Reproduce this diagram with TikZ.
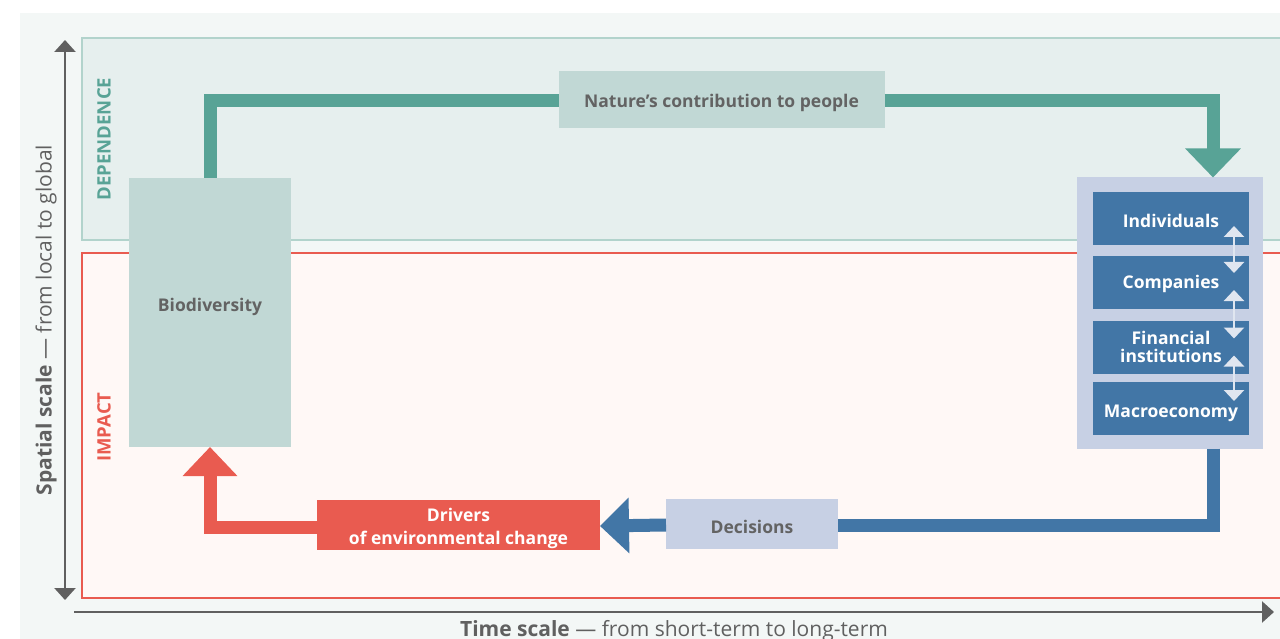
\documentclass[tikz,border=0pt]{standalone}
\usepackage{fontspec}
\setmainfont{Open Sans}
\usetikzlibrary{arrows.meta}
\definecolor{bgc}{HTML}{F3F7F6}
\definecolor{depfill}{HTML}{E6EFEE}
\definecolor{depline}{HTML}{B2D3CC}
\definecolor{impfill}{HTML}{FFF8F6}
\definecolor{redc}{HTML}{E95B50}
\definecolor{tealc}{HTML}{58A396}
\definecolor{biofill}{HTML}{C1D8D5}
\definecolor{greytext}{HTML}{636363}
\definecolor{bluec}{HTML}{4276A6}
\definecolor{panelc}{HTML}{C7D0E4}
\definecolor{axisc}{HTML}{606060}
\definecolor{dblc}{HTML}{E0E6F0}
\tikzset{
  x=1pt,y=-1pt,
  box/.style={inner sep=0pt, outer sep=0pt, align=center, font=\bfseries\fontsize{17.5}{19}\selectfont},
  softbox/.style={box, fill=biofill, text=greytext},
  inbox/.style={box, fill=bluec, text=white, minimum width=156pt, minimum height=53pt},
  conn/.style={line width=13pt, line cap=butt, line join=miter},
  axisline/.style={draw=axisc, line width=2.5pt, -{Triangle[width=21pt,length=12pt]}},
  dbl/.style={draw=dblc, line width=2.5pt, {Triangle[width=20pt,length=11pt]}-{Triangle[width=20pt,length=11pt]}},
  zonelabel/.style={rotate=90, font=\bfseries\fontsize{18.5}{19}\selectfont},
}
\begin{document}
\begin{tikzpicture}
\useasboundingbox (0,0) rectangle (1280,639);
% background
\fill[bgc] (20,13) rectangle (1280,639);
% zones
\draw[fill=depfill, draw=depline, line width=2pt] (82,38) rectangle (1290,240);
\draw[fill=impfill, draw=redc, line width=2pt] (82,253) rectangle (1290,598);
\node[zonelabel, text=tealc] (deplab) at (104,139) {DEPENDENCE};
\node[zonelabel, text=redc] (implab) at (104,427) {IMPACT};
% axes
\coordinate (vtop) at (65,40);
\coordinate (vbot) at (65,600);
\coordinate (hleft) at (74,612);
\coordinate (hright) at (1274,612);
\draw[axisline, {Triangle[width=21pt,length=12pt]}-{Triangle[width=21pt,length=12pt]}] (vtop) -- (vbot);
\draw[axisline] (hleft) -- (hright);
\node[rotate=90, text=axisc, font=\fontsize{21}{22}\selectfont] (ylab) at (46,320) {\textbf{Spatial scale} — from local to global};
\node[text=axisc, font=\fontsize{21}{22}\selectfont, anchor=base] (xlab) at (674,636) {\textbf{Time scale} — from short-term to long-term};
% nodes
\node[softbox, minimum width=162pt, minimum height=269pt, text height=0pt, text depth=2pt] (bio) at (210,312.5) {Biodiversity};
\node[softbox, minimum width=326pt, minimum height=57pt, text height=16pt, text depth=0pt] (nat) at (721.5,99.5) {Nature’s contribution to people};
\node[box, fill=panelc, minimum width=186pt, minimum height=271pt] (grp) at (1170,313) {};
\node[inbox, text height=18pt, text depth=0pt] (ind) at (1171,218.5) {Individuals};
\node[inbox, text height=12pt, text depth=0pt] (com) at (1171,282.5) {Companies};
\node[inbox] (fin) at (1171,347) {Financial\\[-1pt]institutions};
\node[inbox, text height=18pt, text depth=0pt] (mac) at (1171,408.5) {Macroeconomy};
\node[box, fill=panelc, text=greytext, minimum width=172pt, minimum height=50pt, text height=19pt, text depth=0pt] (dec) at (752,524) {Decisions};
\node[box, fill=redc, text=white, minimum width=283pt, minimum height=50pt] (drv) at (458.5,525) {\rule{0pt}{21pt}Drivers\\[4pt]of environmental change};
% double arrows
\draw[dbl] ([xshift=-15pt,yshift=19pt]ind.south east) -- ([xshift=-15pt,yshift=-17pt]com.north east);
\draw[dbl] ([xshift=-15pt,yshift=19pt]com.south east) -- ([xshift=-15pt,yshift=-18pt]fin.north east);
\draw[dbl] ([xshift=-15pt,yshift=18pt]fin.south east) -- ([xshift=-15pt,yshift=-19pt]mac.north east);
% connectors
\draw[conn, draw=tealc] (bio.north) |- ([yshift=-1pt]nat.west);
\draw[conn, draw=tealc, -{Triangle[width=54pt,length=29pt]}] ([yshift=-1pt]nat.east) -| ([xshift=43pt]grp.north);
\draw[conn, draw=bluec] ([xshift=43pt]grp.south) |- ([yshift=-1pt]dec.east);
\draw[conn, draw=bluec, -{Triangle[width=54pt,length=29pt]}] ([yshift=-1pt]dec.west) -- ([yshift=-1pt]drv.east);
\draw[conn, draw=redc, -{Triangle[width=53pt,length=29pt]}] ([yshift=-2pt]drv.west) -| (bio.south);
\end{tikzpicture}
\end{document}
